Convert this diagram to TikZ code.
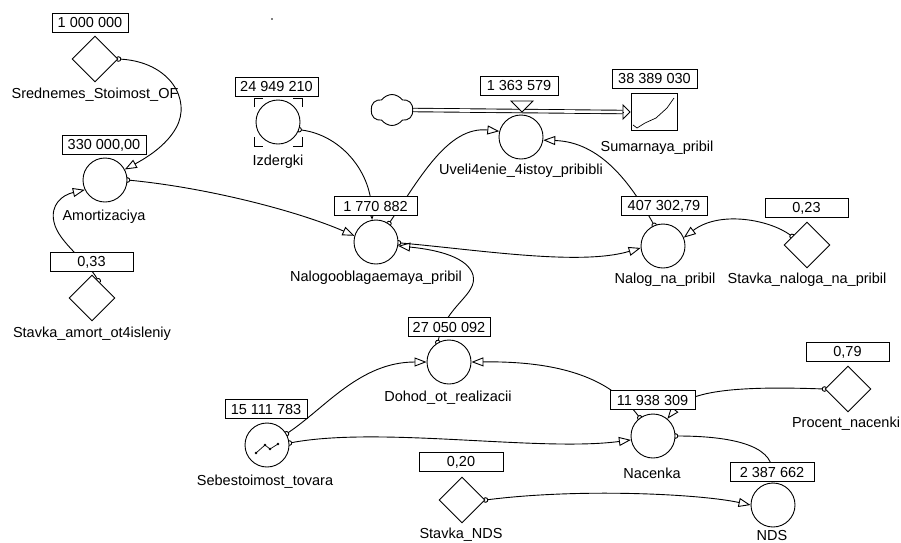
\documentclass[tikz,border=0pt]{standalone}
\usepackage{fontspec}
\setmainfont{Liberation Sans}
\usetikzlibrary{arrows.meta,shapes.geometric,shapes.symbols}
\pgfdeclarelayer{bg}
\pgfsetlayers{bg,main}
\tikzset{
  txt/.style={font=\fontsize{14.5}{17}\selectfont, inner sep=0pt},
  valbox/.style={txt, draw, fill=white, minimum height=19, minimum width=83, line width=0.9pt},
  auxv/.style={draw, fill=white, circle, minimum size=44, inner sep=0pt, line width=0.9pt},
  cst/.style={draw, fill=white, diamond, minimum width=46, minimum height=46, inner sep=0pt, line width=0.9pt},
  lbl/.style={txt},
  lnk/.style={line width=0.9pt, {Circle[open,length=5.5pt,width=5.5pt]}-{Triangle[open,length=12pt,width=9pt]}, shorten <=-2.7pt},
  thinl/.style={line width=0.9pt},
}
\begin{document}
\begin{tikzpicture}[x=1pt,y=-1pt]
\useasboundingbox (0,0) rectangle (901,542);
% stray dot
\fill (272,19) circle (0.8);

% ---------- Srednemes_Stoimost_OF
\node[cst] (sred) at (95,59) {};
\node[valbox, minimum width=76] (bsred) at (90,23) {1 000 000};
\node[lbl] (lsred) at (95,95) {Srednemes\_Stoimost\_OF};

% ---------- Amortizaciya
\node[auxv] (amort) at (105,180) {};
\node[valbox, minimum width=84] (bamort) at (104,145) {330 000,00};
\node[lbl] (lamort) at (104,217) {Amortizaciya};

% ---------- Stavka_amort_ot4isleniy
\node[cst] (stam) at (92,298) {};
\node[valbox] (bstam) at (91.5,262) {0,33};
\node[lbl] (lstam) at (92,334) {Stavka\_amort\_ot4isleniy};

% ---------- Izdergki
\node[auxv] (izd) at (278,122) {};
\node[valbox] (bizd) at (276.5,87) {24 949 210};
\node[lbl] (lizd) at (278,162) {Izdergki};
\draw[thinl] (254,107) -- (254,98) -- (263,98);
\draw[thinl] (293,98) -- (302,98) -- (302,107);
\draw[thinl] (254,137) -- (254,146) -- (263,146);
\draw[thinl] (293,146) -- (302,146) -- (302,137);

% ---------- Nalogooblagaemaya_pribil
\node[auxv] (nalob) at (376,242) {};
\node[valbox] (bnalob) at (375.5,206) {1 770 882};
\node[lbl] (lnalob) at (376,278) {Nalogooblagaemaya\_pribil};

% ---------- Uveli4enie_4istoy_pribibli (flow)
\node[auxv] (uvel) at (521,137) {};
\node[valbox, minimum width=78] (buvel) at (519,86) {1 363 579};
\node[lbl] (luvel) at (521,171) {Uveli4enie\_4istoy\_pribibli};

% ---------- cloud and stock
\node[cloud, draw, fill=white, cloud puffs=6, cloud puff arc=110, aspect=1.4, minimum width=42, minimum height=31, inner sep=0pt, line width=0.9pt] (cloud) at (392,110) {};
\node[draw, fill=white, minimum width=46, minimum height=37, inner sep=0pt, line width=0.9pt] (stock) at (654,112) {};
\node[valbox, minimum width=85] (bsum) at (654.5,79) {38 389 030};
\node[lbl] (lsum) at (657,148) {Sumarnaya\_pribil};
\draw[line width=0.7pt] (633,125) -- (637,128) -- (645,123) -- (656,118) -- (667,108) -- (674,98);

% ---------- Nalog_na_pribil
\node[auxv] (nalog) at (663,246) {};
\node[valbox, minimum width=86] (bnalog) at (664,206) {407 302,79};
\node[lbl] (lnalog) at (665,280) {Nalog\_na\_pribil};

% ---------- Stavka_naloga_na_pribil
\node[cst] (stnal) at (807,245) {};
\node[valbox] (bstnal) at (806.5,208) {0,23};
\node[lbl] (lstnal) at (807,280) {Stavka\_naloga\_na\_pribil};

% ---------- Dohod_ot_realizacii
\node[auxv] (dohod) at (449,362) {};
\node[valbox, minimum width=82] (bdohod) at (449,327) {27 050 092};
\node[lbl] (ldohod) at (448,398) {Dohod\_ot\_realizacii};

% ---------- Sebestoimost_tovara
\node[auxv] (sebest) at (267,445) {};
\node[valbox, minimum width=82] (bsebest) at (266,409) {15 111 783};
\node[lbl] (lsebest) at (265,482) {Sebestoimost\_tovara};
\draw[line width=0.7pt] (256,453) -- (265,445) -- (270,449) -- (278,444);
\foreach \p in {(256,453),(265,445),(270,449),(278,444)} \fill \p circle (1.4);

% ---------- Stavka_NDS
\node[cst] (stnds) at (462,500) {};
\node[valbox, minimum width=84] (bstnds) at (461,462) {0,20};
\node[lbl] (lstnds) at (461,535) {Stavka\_NDS};

% ---------- Nacenka
\node[auxv] (nac) at (653,436) {};
\node[valbox, minimum width=85] (bnac) at (652.5,400) {11 938 309};
\node[lbl] (lnac) at (652,473) {Nacenka};

% ---------- Procent_nacenki
\node[cst] (proc) at (848,389) {};
\node[valbox] (bproc) at (847.5,352) {0,79};
\node[lbl] (lproc) at (846,424) {Procent\_nacenki};

% ---------- NDS
\node[auxv] (nds) at (773,505) {};
\node[valbox, minimum width=84] (bnds) at (772,472) {2 387 662};
\node[lbl] (lnds) at (772,535) {NDS};

% ---------- flow pipe and valve
\coordinate (pipeend) at ([xshift=-8pt]stock.west);
\draw[line width=0.9pt, fill=white] (511,101) -- (533,101) -- (522,112) -- cycle;
\begin{pgfonlayer}{bg}
\draw[line width=0.9pt, double=white, double distance=2.6pt] (cloud.east) -- (pipeend);
\draw[line width=0.9pt, -{Triangle[open,length=8pt,width=16pt]}] (pipeend) -- (stock.west);

% ---------- links
\draw[lnk] (sred.east) .. controls (170,62) and (192,100) .. (176,128) .. controls (166,146) and (146,158) .. (amort.28);
\draw[lnk] (stam.70) .. controls (88,262) and (58,242) .. (54,222) .. controls (50,205) and (62,195) .. (amort.206);
\draw[lnk] (amort.east) .. controls (210,188) and (300,212) .. (nalob.164);
\draw[lnk] (izd.-20) .. controls (340,135) and (370,170) .. (nalob.100);
\draw[lnk] (nalob.55) .. controls (420,178) and (448,126) .. (uvel.165);
\draw[lnk] (nalog.113) .. controls (630,182) and (600,142) .. (uvel.-8);
\draw[lnk] (nalob.-2) .. controls (480,250) and (580,266) .. (nalog.185);
\draw[lnk] (dohod.120) .. controls (446,305) and (478,295) .. (473,275) .. controls (468,258) and (440,250) .. (nalob.-10);
\draw[lnk] (stnal.150) .. controls (770,220) and (720,210) .. (nalog.22);
\draw[lnk] (sebest.30) .. controls (325,408) and (360,362) .. (dohod.180);
\draw[lnk] (sebest.5) .. controls (380,426) and (540,452) .. (nac.190);
\draw[lnk] (nac.126) .. controls (610,378) and (560,361) .. (dohod.0);
\draw[lnk] (proc.west) .. controls (740,386) and (690,390) .. (nac.50);
\draw[lnk] (nac.east) .. controls (730,436) and (772,445) .. (nds.92);
\draw[lnk] (stnds.east) .. controls (580,488) and (700,494) .. (nds.180);
\end{pgfonlayer}
\end{tikzpicture}
\end{document}
